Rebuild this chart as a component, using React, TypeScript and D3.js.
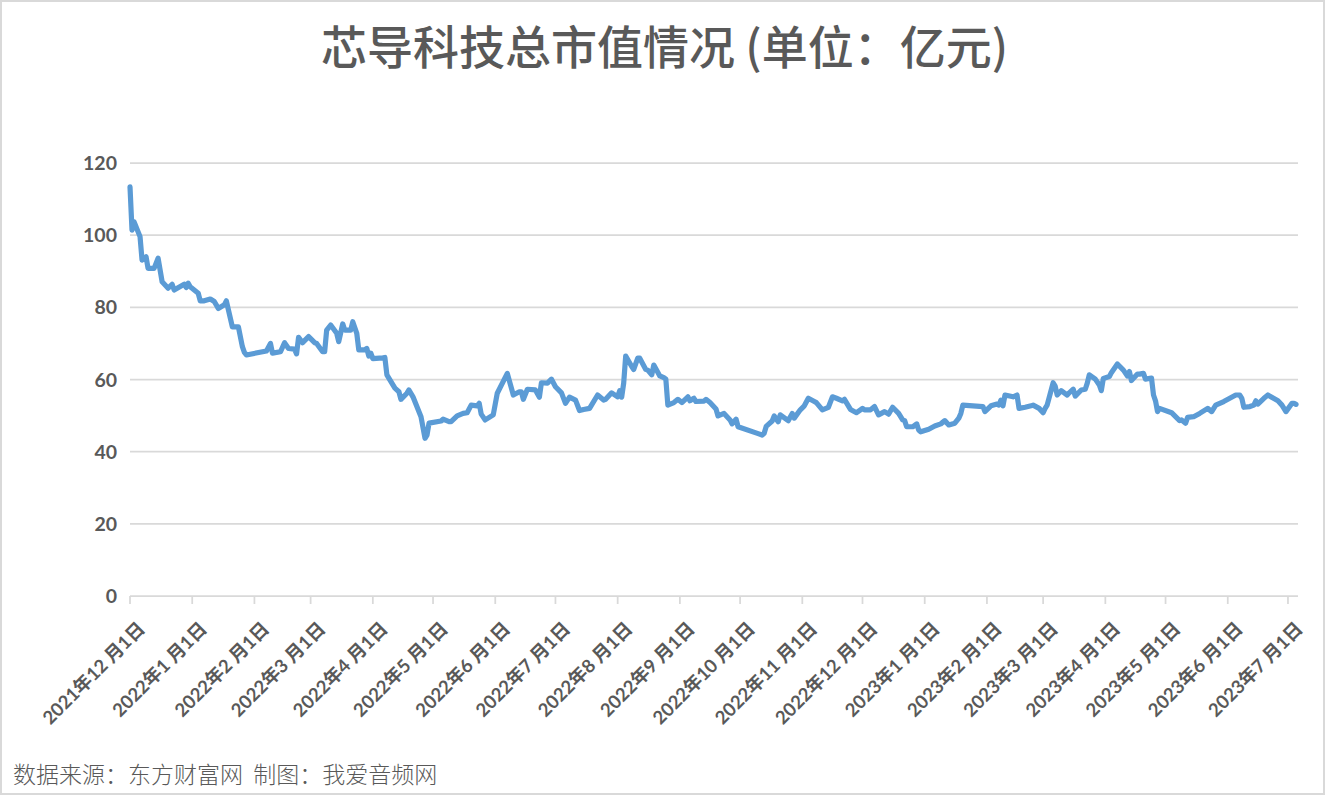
import * as d3 from 'd3';

const W = 1325;
const H = 796;

const tradeDates = [
  '2021-12-01', '2021-12-02', '2021-12-03', '2021-12-06', '2021-12-07', '2021-12-09', '2021-12-10', '2021-12-13',
  '2021-12-15', '2021-12-17', '2021-12-20', '2021-12-22', '2021-12-23', '2021-12-28', '2021-12-29', '2021-12-30',
  '2021-12-31', '2022-01-04', '2022-01-05', '2022-01-07', '2022-01-10', '2022-01-12', '2022-01-14', '2022-01-17',
  '2022-01-18', '2022-01-21', '2022-01-24', '2022-01-26', '2022-01-27', '2022-01-28', '2022-02-07', '2022-02-09',
  '2022-02-10', '2022-02-14', '2022-02-16', '2022-02-18', '2022-02-21', '2022-02-22', '2022-02-23', '2022-02-25',
  '2022-02-28', '2022-03-03', '2022-03-04', '2022-03-07', '2022-03-08', '2022-03-09', '2022-03-11', '2022-03-14',
  '2022-03-15', '2022-03-17', '2022-03-18', '2022-03-21', '2022-03-22', '2022-03-24', '2022-03-25', '2022-03-28',
  '2022-03-29', '2022-03-30', '2022-03-31', '2022-04-01', '2022-04-06', '2022-04-07', '2022-04-08', '2022-04-12',
  '2022-04-14', '2022-04-15', '2022-04-18', '2022-04-19', '2022-04-21', '2022-04-25', '2022-04-27', '2022-04-28',
  '2022-04-29', '2022-05-05', '2022-05-06', '2022-05-09', '2022-05-10', '2022-05-13', '2022-05-16', '2022-05-18',
  '2022-05-20', '2022-05-23', '2022-05-24', '2022-05-25', '2022-05-27', '2022-05-31', '2022-06-02', '2022-06-07',
  '2022-06-10', '2022-06-13', '2022-06-14', '2022-06-15', '2022-06-17', '2022-06-21', '2022-06-23', '2022-06-24',
  '2022-06-27', '2022-06-29', '2022-07-01', '2022-07-04', '2022-07-06', '2022-07-08', '2022-07-11', '2022-07-13',
  '2022-07-15', '2022-07-18', '2022-07-22', '2022-07-25', '2022-07-26', '2022-07-29', '2022-08-01', '2022-08-02',
  '2022-08-03', '2022-08-04', '2022-08-05', '2022-08-08', '2022-08-09', '2022-08-11', '2022-08-12', '2022-08-15',
  '2022-08-16', '2022-08-18', '2022-08-19', '2022-08-22', '2022-08-24', '2022-08-25', '2022-08-26', '2022-08-29',
  '2022-08-31', '2022-09-02', '2022-09-05', '2022-09-06', '2022-09-08', '2022-09-09', '2022-09-13', '2022-09-14',
  '2022-09-16', '2022-09-19', '2022-09-20', '2022-09-23', '2022-09-26', '2022-09-27', '2022-09-29', '2022-09-30',
  '2022-10-10', '2022-10-12', '2022-10-13', '2022-10-14', '2022-10-17', '2022-10-18', '2022-10-20', '2022-10-21',
  '2022-10-25', '2022-10-27', '2022-10-28', '2022-10-31', '2022-11-02', '2022-11-04', '2022-11-07', '2022-11-08',
  '2022-11-11', '2022-11-14', '2022-11-16', '2022-11-18', '2022-11-21', '2022-11-22', '2022-11-25', '2022-11-28',
  '2022-11-30', '2022-12-01', '2022-12-02', '2022-12-05', '2022-12-07', '2022-12-09', '2022-12-12', '2022-12-14',
  '2022-12-16', '2022-12-19', '2022-12-21', '2022-12-22', '2022-12-23', '2022-12-26', '2022-12-28', '2022-12-29',
  '2022-12-30', '2023-01-03', '2023-01-06', '2023-01-09', '2023-01-11', '2023-01-13', '2023-01-16', '2023-01-18',
  '2023-01-19', '2023-01-20', '2023-01-30', '2023-01-31', '2023-02-03', '2023-02-06', '2023-02-07', '2023-02-08',
  '2023-02-09', '2023-02-10', '2023-02-14', '2023-02-16', '2023-02-17', '2023-02-20', '2023-02-23', '2023-02-24',
  '2023-02-27', '2023-03-01', '2023-03-02', '2023-03-03', '2023-03-06', '2023-03-07', '2023-03-08', '2023-03-10',
  '2023-03-13', '2023-03-14', '2023-03-16', '2023-03-17', '2023-03-20', '2023-03-22', '2023-03-23', '2023-03-24',
  '2023-03-27', '2023-03-29', '2023-03-30', '2023-03-31', '2023-04-03', '2023-04-04', '2023-04-07', '2023-04-10',
  '2023-04-12', '2023-04-13', '2023-04-14', '2023-04-17', '2023-04-18', '2023-04-20', '2023-04-21', '2023-04-24',
  '2023-04-25', '2023-04-26', '2023-04-27', '2023-04-28', '2023-05-04', '2023-05-08', '2023-05-09', '2023-05-11',
  '2023-05-12', '2023-05-15', '2023-05-18', '2023-05-22', '2023-05-24', '2023-05-26', '2023-05-30', '2023-06-02',
  '2023-06-05', '2023-06-07', '2023-06-08', '2023-06-09', '2023-06-12', '2023-06-14', '2023-06-15', '2023-06-16',
  '2023-06-19', '2023-06-21', '2023-06-26', '2023-06-28', '2023-06-29', '2023-06-30', '2023-07-03', '2023-07-04',
  '2023-07-05',
];

// 总市值（亿元）
const marketCap = [
  113.4, 101.4, 103.7, 99.6, 93.1, 94.0, 90.8, 90.8,
  93.6, 87.1, 85.3, 86.4, 84.8, 86.4, 85.5, 86.7,
  85.7, 83.9, 81.8, 81.8, 82.3, 81.6, 79.7, 80.7,
  81.8, 74.6, 74.6, 69.1, 67.5, 66.8, 67.9, 70.0,
  67.3, 67.7, 70.2, 68.6, 68.4, 67.1, 71.7, 70.2,
  71.9, 70.2, 70.0, 67.7, 67.7, 73.7, 75.1, 72.8,
  70.5, 75.4, 73.7, 73.7, 76.0, 72.8, 68.2, 68.2,
  68.6, 66.5, 67.3, 65.8, 66.0, 66.1, 61.3, 57.6,
  56.6, 54.5, 56.2, 57.1, 55.2, 49.7, 43.7, 44.6,
  47.9, 48.5, 49.0, 48.3, 48.3, 49.9, 50.6, 50.8,
  52.9, 52.7, 53.4, 50.4, 48.8, 50.2, 56.2, 61.7,
  55.7, 56.6, 56.6, 54.5, 57.3, 57.1, 55.1, 59.1,
  59.0, 60.1, 58.0, 56.3, 53.4, 55.1, 54.3, 51.4,
  51.7, 52.0, 55.7, 54.3, 54.5, 56.3, 55.2, 56.9,
  55.1, 59.0, 66.5, 63.6, 62.8, 65.9, 65.9, 62.8,
  62.6, 61.3, 64.0, 61.0, 60.5, 60.1, 52.9, 53.6,
  54.5, 53.6, 55.2, 54.1, 54.8, 53.9, 54.0, 54.5,
  53.6, 51.8, 49.9, 50.6, 48.8, 47.7, 49.0, 46.9,
  45.0, 44.6, 45.1, 47.0, 48.5, 49.9, 48.3, 50.2,
  48.6, 50.6, 49.3, 51.6, 52.7, 54.8, 53.9, 53.6,
  51.6, 52.3, 55.2, 54.8, 54.1, 54.5, 51.7, 50.8,
  51.6, 52.0, 51.6, 51.6, 52.5, 50.2, 51.1, 50.4,
  52.3, 50.6, 48.8, 48.6, 46.9, 46.9, 47.7, 46.0,
  45.5, 46.2, 47.1, 47.7, 48.6, 47.4, 47.9, 49.3,
  50.6, 52.9, 52.5, 51.1, 52.7, 53.2, 52.9, 54.3,
  52.7, 55.7, 55.2, 55.7, 52.0, 52.3, 52.7, 52.9,
  52.0, 50.8, 52.0, 52.9, 59.1, 58.2, 55.7, 56.9,
  55.7, 56.3, 57.3, 55.4, 57.1, 57.3, 59.0, 61.3,
  60.1, 58.5, 56.9, 60.3, 60.8, 61.9, 64.3, 62.6,
  61.0, 62.2, 59.7, 61.5, 61.5, 61.7, 60.1, 60.4,
  55.7, 54.1, 51.1, 52.0, 50.8, 48.6, 48.8, 47.9,
  49.5, 49.7, 50.6, 52.0, 51.1, 52.9, 53.9, 54.8,
  55.7, 55.7, 54.8, 52.3, 52.5, 52.9, 54.1, 53.2,
  54.8, 55.7, 54.1, 52.9, 52.0, 51.1, 53.4, 53.4,
  53.1,
];

const yTicks = [0, 20, 40, 60, 80, 100, 120];
const axisStart = '2021-12-01';
const axisEnd = '2023-07-06';

const title = '芯导科技总市值情况 (单位：亿元)';
const footnote = '数据来源：东方财富网  制图：我爱音频网';

const parse = d3.timeParse('%Y-%m-%d');
const fmt = d3.timeFormat('%Y年%-m 月%-d日');

const PLOT = { left: 130, right: 1298, top: 163, bottom: 596 };
const GREY = '#595959';
const GRID = '#d9d9d9';
const LABEL_FONT = "Lato, 'Noto Sans CJK SC', sans-serif";
const CJK_FONT = "'Noto Sans CJK SC', sans-serif";

export default function App() {
  const points = tradeDates.map((d, i) => ({ date: parse(d) as Date, value: marketCap[i] }));

  const x = d3.scaleTime()
    .domain([parse(axisStart) as Date, parse(axisEnd) as Date])
    .range([PLOT.left, PLOT.right]);
  const y = d3.scaleLinear().domain([0, 120]).range([PLOT.bottom, PLOT.top]);

  const monthTicks = x.ticks(d3.timeMonth.every(1)!);

  const line = d3.line<{ date: Date; value: number }>()
    .x(d => x(d.date))
    .y(d => y(d.value));

  return (
    <svg width={W} height={H} viewBox={`0 0 ${W} ${H}`}
      style={{ position: 'absolute', left: 0, top: 0, display: 'block', background: '#fff' }}>
      <rect x={1} y={1} width={W - 2} height={H - 3} fill="#fff" stroke={GRID} strokeWidth={2} />

      <text x={W / 2 + 2} y={64} textAnchor="middle" fill={GREY} fontFamily={CJK_FONT}
        fontWeight={500} fontSize={46}>
        {title}
      </text>

      {/* gridlines + y labels */}
      {yTicks.map(t => (
        <g key={t}>
          <line x1={PLOT.left} x2={PLOT.right} y1={y(t)} y2={y(t)} stroke={GRID} strokeWidth={1.75} />
          <text x={117} y={y(t)} dy="0.36em" textAnchor="end" fill={GREY}
            fontFamily={LABEL_FONT} fontWeight={700} fontSize={19.5}>{t}</text>
        </g>
      ))}

      {/* x axis ticks + rotated labels */}
      {monthTicks.map(t => (
        <g key={+t}>
          <line x1={x(t)} x2={x(t)} y1={PLOT.bottom} y2={PLOT.bottom + 8} stroke={GRID} strokeWidth={1.75} />
          <text transform={`translate(${x(t) + 16},${630}) rotate(-45)`} textAnchor="end" fill={GREY}
            fontFamily={LABEL_FONT} fontWeight={700} fontSize={18.5} style={{ whiteSpace: 'pre' }}>{fmt(t)}</text>
        </g>
      ))}

      <path d={line(points) || ''} fill="none" stroke="#5b9bd5" strokeWidth={5.2}
        strokeLinejoin="round" strokeLinecap="round" />

      <text x={13} y={783} fill={GREY} fontFamily={CJK_FONT} fontWeight={300} fontSize={23}
        style={{ whiteSpace: 'pre' }}>
        {footnote}
      </text>
    </svg>
  );
}
